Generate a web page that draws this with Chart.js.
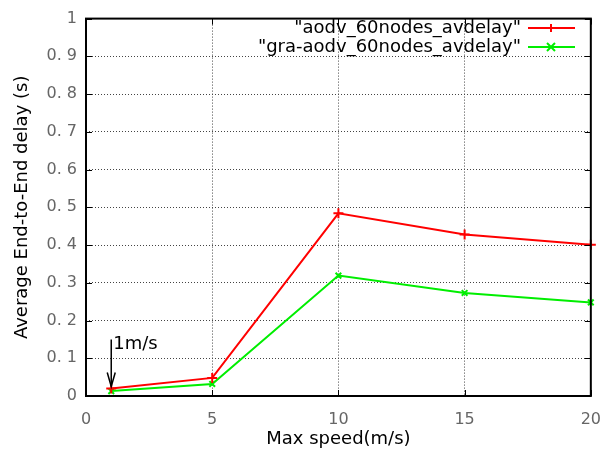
<!DOCTYPE html>
<html>
<head>
<meta charset="utf-8">
<script src="https://cdn.jsdelivr.net/npm/chart.js@4/dist/chart.umd.min.js"></script>
<style>
  html, body { margin: 0; padding: 0; background: #fff; }
  #box { width: 615px; height: 458px; }
</style>
</head>
<body>
<div id="box"><canvas id="grafico"></canvas></div>
<script>
const velocidades = [1, 5, 10, 15, 20];
const atrasoAodv = [0.020, 0.048, 0.484, 0.428, 0.401];
const atrasoGraAodv = [0.013, 0.032, 0.319, 0.273, 0.248];
const nomesSeries = ['"aodv_60nodes_avdelay"', '"gra-aodv_60nodes_avdelay"'];
const ticksX = [0, 5, 10, 15, 20];
const ticksY = [0, 0.1, 0.2, 0.3, 0.4, 0.5, 0.6, 0.7, 0.8, 0.9, 1];
const anotacao = { x: 1, yTopo: 0.15, yPonta: 0.025, texto: '1m/s' };

const cores = ['#ff0000', '#00ee00'];
const estilos = ['cross', 'crossRot'];

function pontos(valores) {
  return velocidades.map((v, i) => ({ x: v, y: valores[i] }));
}

// moldura, ticks para dentro, legenda e seta no estilo gnuplot
const estiloGnuplot = {
  id: 'estiloGnuplot',
  afterDraw(chart) {
    const ctx = chart.ctx;
    const a = chart.chartArea;
    const sx = chart.scales.x;
    const sy = chart.scales.y;

    ctx.save();
    ctx.strokeStyle = '#000';
    ctx.lineWidth = 1;
    ticksX.forEach(t => {
      const px = Math.round(sx.getPixelForValue(t)) + 0.5;
      ctx.beginPath();
      ctx.moveTo(px, a.bottom); ctx.lineTo(px, a.bottom - 6);
      ctx.moveTo(px, a.top); ctx.lineTo(px, a.top + 6);
      ctx.stroke();
    });
    ticksY.forEach(t => {
      const py = Math.round(sy.getPixelForValue(t)) + 0.5;
      ctx.beginPath();
      ctx.moveTo(a.left, py); ctx.lineTo(a.left + 6, py);
      ctx.moveTo(a.right, py); ctx.lineTo(a.right - 6, py);
      ctx.stroke();
    });

    ctx.lineWidth = 2;
    ctx.strokeRect(a.left, a.top, a.right - a.left, a.bottom - a.top);

    // legenda
    ctx.font = '18px "DejaVu Sans"';
    ctx.textAlign = 'right';
    ctx.textBaseline = 'middle';
    nomesSeries.forEach((nome, i) => {
      const y = 28 + i * 19;
      ctx.fillStyle = '#000';
      ctx.fillText(nome, 521, y);
      ctx.strokeStyle = cores[i];
      ctx.lineWidth = 2;
      ctx.beginPath();
      ctx.moveTo(528, y); ctx.lineTo(575, y);
      ctx.stroke();
      const cx = 551, r = 4;
      ctx.beginPath();
      if (estilos[i] === 'cross') {
        ctx.moveTo(cx - r, y); ctx.lineTo(cx + r, y);
        ctx.moveTo(cx, y - r); ctx.lineTo(cx, y + r);
      } else {
        ctx.moveTo(cx - r, y - r); ctx.lineTo(cx + r, y + r);
        ctx.moveTo(cx - r, y + r); ctx.lineTo(cx + r, y - r);
      }
      ctx.stroke();
    });

    // seta "1m/s"
    const ax = sx.getPixelForValue(anotacao.x);
    const y1 = sy.getPixelForValue(anotacao.yTopo);
    const y2 = sy.getPixelForValue(anotacao.yPonta);
    ctx.strokeStyle = '#000';
    ctx.fillStyle = '#000';
    ctx.lineWidth = 1.5;
    ctx.beginPath();
    ctx.moveTo(ax, y1); ctx.lineTo(ax, y2);
    ctx.stroke();
    ctx.beginPath();
    ctx.moveTo(ax - 4, y2 - 14); ctx.lineTo(ax, y2); ctx.lineTo(ax + 4, y2 - 14);
    ctx.stroke();
    ctx.font = '18px "DejaVu Sans"';
    ctx.textAlign = 'left';
    ctx.fillText(anotacao.texto, ax + 2, y1 + 5);
    ctx.restore();
  }
};

const corGrade = ctx => (ctx.tick.value === ctx.scale.min || ctx.tick.value === ctx.scale.max) ? 'rgba(0,0,0,0)' : '#444';

new Chart(document.getElementById('grafico'), {
  type: 'line',
  data: {
    datasets: [
      {
        label: nomesSeries[0],
        data: pontos(atrasoAodv),
        borderColor: cores[0],
        backgroundColor: cores[0],
        borderWidth: 2,
        pointStyle: estilos[0],
        pointRadius: 5,
        pointBorderWidth: 2,
        tension: 0
      },
      {
        label: nomesSeries[1],
        data: pontos(atrasoGraAodv),
        borderColor: cores[1],
        backgroundColor: cores[1],
        borderWidth: 2,
        pointStyle: estilos[1],
        pointRadius: 4,
        pointBorderWidth: 2,
        tension: 0
      }
    ]
  },
  options: {
    responsive: true,
    maintainAspectRatio: false,
    animation: false,
    clip: false,
    layout: { padding: { top: 12, right: 22, left: 0, bottom: 0 } },
    scales: {
      x: {
        type: 'linear',
        min: 0,
        max: 20,
        afterBuildTicks: s => { s.ticks = ticksX.map(v => ({ value: v })); },
        afterFit: s => { s.height = 62; },
        border: { display: false, dash: [1, 2] },
        grid: { color: corGrade, lineWidth: 1, drawTicks: false },
        ticks: {
          padding: 14,
          color: '#666',
          font: { family: 'DejaVu Sans', size: 16 },
          maxRotation: 0
        },
        title: {
          display: true,
          text: 'Max speed(m/s)',
          color: '#000',
          font: { family: 'DejaVu Sans', size: 18 },
          padding: { top: 0, bottom: 8 }
        }
      },
      y: {
        min: 0,
        max: 1,
        afterBuildTicks: s => { s.ticks = ticksY.map(v => ({ value: v })); },
        afterFit: s => { s.width = 86; },
        border: { display: false, dash: [1, 2] },
        grid: { color: corGrade, lineWidth: 1, drawTicks: false },
        ticks: {
          padding: 9,
          color: '#666',
          font: { family: 'DejaVu Sans', size: 16 },
          callback: v => (v === 0 || v === 1) ? String(v) : v.toFixed(1).replace('.', '. ')
        },
        title: {
          display: true,
          text: 'Average End-to-End delay (s)',
          color: '#000',
          font: { family: 'DejaVu Sans', size: 18 },
          padding: { top: 12, bottom: 0 }
        }
      }
    },
    plugins: {
      legend: { display: false },
      tooltip: { enabled: false }
    }
  },
  plugins: [estiloGnuplot]
});
</script>
</body>
</html>
